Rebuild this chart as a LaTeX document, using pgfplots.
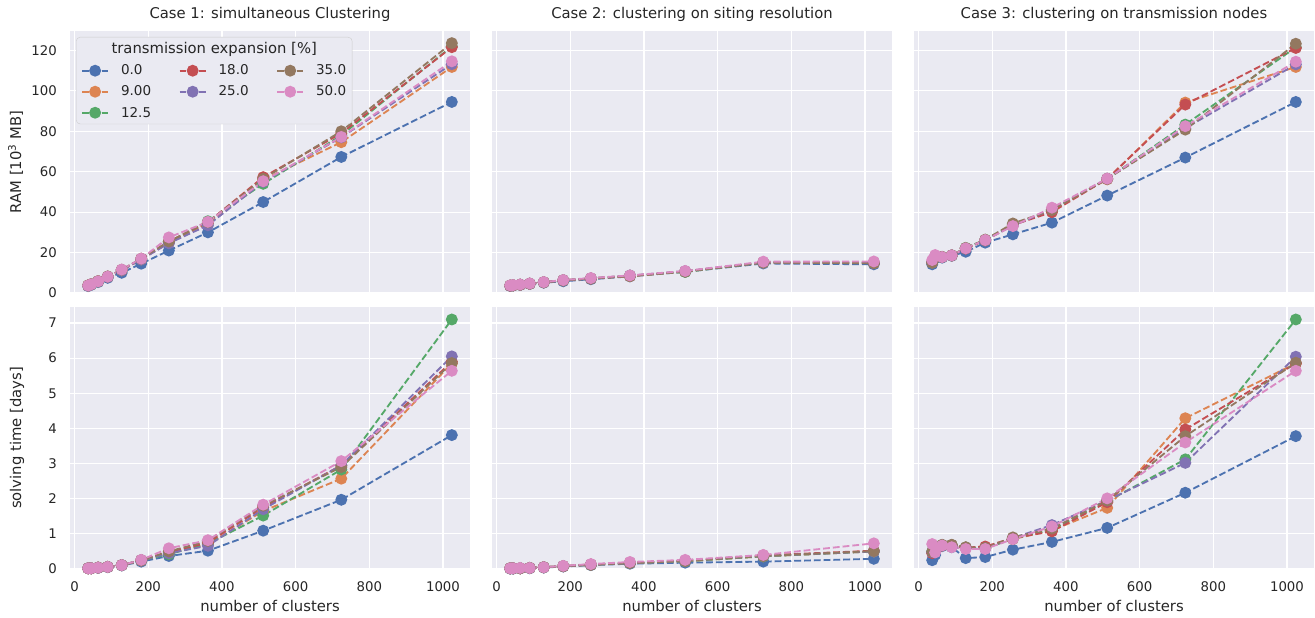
\documentclass[border=0pt]{standalone}
\usepackage{pgfplots}
\pgfplotsset{compat=1.18}
\usepackage{pgfplotstable}
\usepackage{fontspec}
\setmainfont{DejaVu Sans}

\definecolor{c0}{HTML}{4C72B0}
\definecolor{c1}{HTML}{DD8452}
\definecolor{c2}{HTML}{55A868}
\definecolor{c3}{HTML}{C44E52}
\definecolor{c4}{HTML}{8172B3}
\definecolor{c5}{HTML}{937860}
\definecolor{c6}{HTML}{DA8BC3}
\definecolor{bg}{HTML}{EAEAF2}
\definecolor{txt}{HTML}{262626}
\definecolor{lgray}{HTML}{CCCCCC}

% columns: a=0.0, b=9.00, c=12.5, d=18.0, e=25.0, f=35.0, g=50.0
\pgfplotstableread{
x     a     b     c     d     e     f     g
37    3.4   3.6   3.7   3.7   3.6   3.8   3.7
45    4.0   4.2   4.3   4.3   4.2   4.4   4.3
64    5.4   5.7   5.8   5.8   5.7   5.9   5.8
90    7.5   8.0   8.1   8.1   8.0   8.2   8.1
128   10.0  11.2  11.4  11.4  11.2  11.5  11.6
181   14.5  16.6  16.8  16.9  16.6  17.0  17.0
256   21.0  24.8  25.2  25.5  24.6  25.5  27.5
362   30.0  34.5  35.5  35.0  33.5  35.0  35.2
512   45.0  56.0  54.0  57.3  55.0  56.5  55.3
724   67.3  74.6  78.0  79.0  77.0  80.0  77.2
1024  94.5  111.8 122.0 121.6 113.2 123.6 114.6
}\cOneRam

\pgfplotstableread{
x     a     b     c     d     e     f     g
37    3.5   3.6   3.7   3.6   3.6   3.7   3.8
45    3.7   3.8   3.8   3.8   3.8   3.8   3.9
64    4.0   4.1   4.1   4.1   4.1   4.1   4.2
90    4.5   4.6   4.6   4.6   4.6   4.6   4.7
128   5.1   5.3   5.3   5.3   5.3   5.3   5.4
181   5.8   6.2   6.3   6.3   6.3   6.3   6.4
256   6.8   7.1   7.2   7.2   7.2   7.2   7.4
362   8.2   8.3   8.6   8.5   8.6   8.4   8.7
512   10.5  10.6  10.4  10.7  10.8  10.6  10.9
724   14.6  15.0  15.1  15.2  15.1  15.1  15.5
1024  14.2  14.8  15.0  15.1  15.0  14.7  15.6
}\cTwoRam

\pgfplotstableread{
x     a     b     c     d     e     f     g
37    14.2  15.0  15.0  15.2  15.1  15.0  16.3
45    17.2  17.8  18.0  18.0  18.0  17.8  18.8
64    17.5  17.8  17.8  17.8  17.8  17.9  17.8
90    18.4  18.6  18.6  18.6  18.6  18.6  18.6
128   20.4  22.0  22.3  22.0  22.1  22.3  22.1
181   24.9  26.0  26.3  26.2  26.2  26.4  26.2
256   29.0  33.5  33.8  33.6  33.4  34.4  33.1
362   34.8  41.0  41.0  40.0  41.3  41.0  42.2
512   48.2  56.2  56.5  56.5  56.5  56.5  56.6
724   67.0  94.2  83.3  93.2  81.5  80.8  82.5
1024  94.5  111.8 121.5 121.2 113.1 123.3 114.4
}\cThreeRam

\pgfplotstableread{
x     a     b     c     d     e     f     g
37    0.02  0.02  0.02  0.02  0.02  0.02  0.02
45    0.02  0.02  0.02  0.02  0.02  0.02  0.02
64    0.03  0.04  0.04  0.04  0.04  0.04  0.04
90    0.05  0.06  0.06  0.06  0.06  0.06  0.06
128   0.10  0.11  0.11  0.11  0.11  0.11  0.11
181   0.21  0.24  0.25  0.25  0.25  0.25  0.26
256   0.37  0.45  0.42  0.48  0.45  0.50  0.59
362   0.52  0.70  0.72  0.75  0.66  0.80  0.82
512   1.09  1.65  1.52  1.75  1.70  1.80  1.83
724   1.97  2.57  2.83  2.95  2.95  2.90  3.07
1024  3.81  5.85  7.10  5.90  6.05  5.86  5.64
}\cOneTime

\pgfplotstableread{
x     a     b     c     d     e     f     g
37    0.01  0.02  0.02  0.02  0.02  0.02  0.02
45    0.01  0.02  0.02  0.02  0.02  0.02  0.02
64    0.02  0.02  0.02  0.02  0.02  0.02  0.03
90    0.02  0.03  0.03  0.03  0.03  0.03  0.03
128   0.04  0.05  0.05  0.05  0.05  0.05  0.05
181   0.07  0.08  0.08  0.08  0.08  0.08  0.09
256   0.11  0.12  0.12  0.13  0.12  0.12  0.14
362   0.15  0.17  0.17  0.18  0.17  0.17  0.20
512   0.18  0.22  0.22  0.24  0.23  0.23  0.26
724   0.21  0.36  0.36  0.39  0.37  0.37  0.40
1024  0.29  0.50  0.50  0.52  0.50  0.51  0.73
}\cTwoTime

\pgfplotstableread{
x     a     b     c     d     e     f     g
37    0.25  0.47  0.50  0.45  0.48  0.49  0.71
45    0.40  0.55  0.56  0.55  0.55  0.56  0.47
64    0.65  0.67  0.68  0.67  0.68  0.69  0.67
90    0.62  0.68  0.68  0.67  0.68  0.69  0.62
128   0.31  0.60  0.61  0.61  0.61  0.62  0.57
181   0.34  0.60  0.59  0.64  0.59  0.60  0.57
256   0.55  0.85  0.86  0.88  0.88  0.90  0.85
362   0.77  1.10  1.12  1.07  1.25  1.15  1.21
512   1.17  1.74  1.93  1.90  1.95  1.95  2.01
724   2.17  4.29  3.12  3.97  3.02  3.78  3.60
1024  3.78  5.85  7.10  5.85  6.04  5.87  5.64
}\cThreeTime

\pgfplotsset{
  sb/.style={
    scale only axis, width=400pt, height=262pt,
    xmin=-12.35, xmax=1073.35,
    axis background/.style={fill=bg},
    axis line style={draw=none},
    major tick length=0pt,
    grid=major, grid style={white, line width=1.25pt},
    xtick={0,200,...,1000},
    /pgf/number format/1000 sep={},
    /pgf/number format/assume math mode=true,
    tick label style={font=\fontsize{13.3}{16}\selectfont, text=txt},
    xticklabel style={inner sep=0pt, anchor=north, yshift=-12.5pt},
    yticklabel style={inner sep=0pt, anchor=east, xshift=-13pt},
    label style={font=\fontsize{14.8}{17}\selectfont, text=txt},
    title style={font=\fontsize{14.8}{17}\selectfont, text=txt,
      at={(axis description cs:0.5,1.0267)}, anchor=base},
    xlabel style={at={(axis description cs:0.5,-0.1603)}, anchor=base},
    ylabel style={at={(axis description cs:-0.1225,0.5)}, anchor=base, rotate=0},
  },
  toprow/.style={ymin=0, ymax=129.6, ytick={0,20,...,120}, xticklabels={}},
  botrow/.style={ymin=0, ymax=7.455, ytick={0,1,...,7}, xlabel={number of clusters}},
  ser/.style={color=#1, line width=1.85pt, dash pattern=on 6.8pt off 3pt,
    mark=*, mark size=5pt, mark options={solid, fill=#1, draw=none}},
}

\newcommand{\allseries}[1]{%
  \addplot[ser=c0, forget plot] table[x=x, y=a] {#1};
  \addplot[ser=c1, forget plot] table[x=x, y=b] {#1};
  \addplot[ser=c2, forget plot] table[x=x, y=c] {#1};
  \addplot[ser=c3, forget plot] table[x=x, y=d] {#1};
  \addplot[ser=c4, forget plot] table[x=x, y=e] {#1};
  \addplot[ser=c5, forget plot] table[x=x, y=f] {#1};
  \addplot[ser=c6, forget plot] table[x=x, y=g] {#1};
}

\begin{document}
\begin{tikzpicture}
\useasboundingbox (0,0) rectangle (1315pt,-618pt);

% ---- top row ----
\begin{axis}[sb, toprow, at={(70pt,-31pt)}, anchor=north west,
  title={Case 1: simultaneous Clustering},
  ylabel={RAM [10\textsuperscript{3} MB]},
  legend columns=3,
  legend style={at={(axis description cs:0,1)}, anchor=north west,
    xshift=6pt, yshift=-6pt, fill=bg, draw=lgray, rounded corners=4pt,
    inner xsep=5pt, inner ysep=5.5pt, font=\fontsize{13.5}{16}\selectfont,
    text=txt, nodes={inner sep=0pt}, row sep=9.5pt, column sep=0pt},
  legend cell align=left,
  legend image code/.code={\draw[mark repeat=2, mark phase=2, #1] plot coordinates {(0pt,0pt) (13pt,0pt) (26pt,0pt)};},
]
\allseries{\cOneRam}
\addlegendimage{empty legend}\addlegendentry{\makebox[0pt][l]{\hspace{2pt}\fontsize{14.8}{17}\selectfont transmission expansion [\%]}}
\addlegendimage{empty legend}\addlegendentry{}
\addlegendimage{empty legend}\addlegendentry{}
\addlegendimage{ser=c0}\addlegendentry{\hspace{12pt}\makebox[57.7pt][l]{0.0}}
\addlegendimage{ser=c3}\addlegendentry{\hspace{12pt}\makebox[57.7pt][l]{18.0}}
\addlegendimage{ser=c5}\addlegendentry{\hspace{12pt}\makebox[31pt][l]{35.0}}
\addlegendimage{ser=c1}\addlegendentry{\hspace{12pt}\makebox[57.7pt][l]{9.00}}
\addlegendimage{ser=c4}\addlegendentry{\hspace{12pt}\makebox[57.7pt][l]{25.0}}
\addlegendimage{ser=c6}\addlegendentry{\hspace{12pt}\makebox[31pt][l]{50.0}}
\addlegendimage{ser=c2}\addlegendentry{\hspace{12pt}\makebox[57.7pt][l]{12.5}}
\end{axis}

\begin{axis}[sb, toprow, at={(492pt,-31pt)}, anchor=north west,
  title={Case 2: clustering on siting resolution}, yticklabels={}]
\allseries{\cTwoRam}
\end{axis}

\begin{axis}[sb, toprow, at={(914pt,-31pt)}, anchor=north west,
  title={Case 3: clustering on transmission nodes}, yticklabels={}]
\allseries{\cThreeRam}
\end{axis}

% ---- bottom row ----
\begin{axis}[sb, botrow, at={(70pt,-307pt)}, anchor=north west,
  ylabel={solving time [days]}]
\allseries{\cOneTime}
\end{axis}

\begin{axis}[sb, botrow, at={(492pt,-307pt)}, anchor=north west, yticklabels={}]
\allseries{\cTwoTime}
\end{axis}

\begin{axis}[sb, botrow, at={(914pt,-307pt)}, anchor=north west, yticklabels={}]
\allseries{\cThreeTime}
\end{axis}
\end{tikzpicture}
\end{document}
